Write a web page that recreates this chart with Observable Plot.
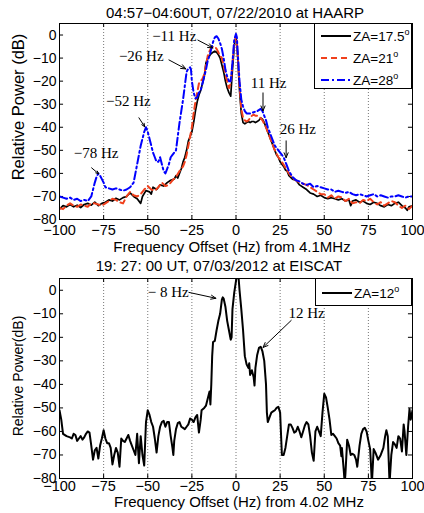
<!DOCTYPE html>
<html><head><meta charset="utf-8">
<script src="https://cdn.jsdelivr.net/npm/d3@7"></script>
<script src="https://cdn.jsdelivr.net/npm/@observablehq/plot@0.6"></script>
<style>
body{margin:0;background:#fff;font-family:"Liberation Sans",Arial,Helvetica,sans-serif;color:#000;}
#wrap{position:relative;width:424px;height:513px;overflow:hidden;}
.abs{position:absolute;white-space:nowrap;line-height:1;}
.ctr{transform:translate(-50%,-50%);}
.ylab{transform:translate(-50%,-50%) rotate(-90deg);}
.leg{position:absolute;background:#fff;border:1px solid #000;box-sizing:border-box;}
.row{position:absolute;left:0;height:20px;}
.row svg{position:absolute;left:6px;top:0;}
.row span{position:absolute;left:38px;top:3px;font-size:13.5px;white-space:nowrap;}
sup{font-size:9px;vertical-align:6px;line-height:0;}
</style></head>
<body><div id="wrap"></div>
<script>
// ---------- data ----------
const xTicks = [-100,-75,-50,-25,0,25,50,75,100];
const yTicks = [-80,-70,-60,-50,-40,-30,-20,-10,0];
const gridTicks = [-75,-50,-25,0,25,50,75];

const titleTop = "04:57\u221204:60UT, 07/22/2010 at HAARP";
const titleBottom = "19: 27: 00 UT, 07/03/2012 at EISCAT";
const xLabelTop = "Frequency Offset (Hz) from 4.1MHz";
const xLabelBottom = "Frequency Offset (Hz) from 4.02 MHz";
const yLabelTop = "Relative Power (dB)";
const yLabelBottom = "Relative Power(dB)";

// HAARP, ZA=17.5 deg  [freq Hz, dB]
const za175 = [[-100,-75.5],[-98,-74],[-96,-74.5],[-94,-73.5],[-92,-74.5],[-90,-73.8],[-88,-74.8],[-86,-73.5],[-84,-73],[-82,-73.8],[-80,-72.5],[-78,-74],[-76,-73],[-74,-72.5],[-72,-71.5],[-70,-72],[-68,-70.8],[-66,-71.5],[-64,-70.5],[-62,-70],[-60,-68.5],[-58,-70],[-56,-71],[-54,-73],[-53,-70],[-51,-67.5],[-49,-68],[-48,-69],[-47,-66],[-45,-67],[-43,-65],[-41,-65.5],[-39,-64],[-37,-63],[-35,-62.5],[-34,-61],[-33,-62],[-31,-58],[-30,-55],[-29,-53],[-28,-50],[-27,-46],[-26,-44],[-25,-42],[-24,-38],[-23,-33],[-22,-29],[-21,-26],[-20,-24],[-19,-21],[-18,-18],[-17,-12],[-16,-10],[-15,-9],[-14,-8],[-13,-7.5],[-12,-7],[-11,-7.5],[-10,-8.5],[-9,-10],[-8,-13],[-7,-16],[-6,-20],[-5,-23],[-4,-25],[-3,-26.5],[-2,-15],[-1,-5],[-0.5,-2],[0,-1.5],[0.5,-3],[1,-10],[2,-24],[3,-34],[4,-38],[5,-38.5],[6,-38],[7,-37.5],[8,-38],[9,-37.5],[10,-37.5],[11,-38],[12,-37.5],[13,-37],[14,-36],[15,-36.5],[16,-38],[17,-40],[18,-42],[19,-44],[20,-46],[21,-48],[22,-50],[23,-52],[24,-53],[25,-55],[26,-56],[27,-57],[28,-58.5],[29,-59],[30,-61],[32,-62.5],[34,-63],[36,-65],[38,-66],[40,-67],[42,-68.5],[44,-69],[46,-70],[48,-69.5],[50,-70.5],[52,-71],[54,-70.5],[56,-71],[58,-71.5],[60,-71],[62,-72],[64,-71.5],[65,-74],[66,-72],[68,-71.5],[70,-72.5],[72,-72],[74,-73],[76,-73.5],[78,-72.5],[80,-73],[82,-74],[84,-74.5],[86,-73.5],[88,-74],[90,-73],[92,-72.5],[94,-74],[96,-75],[97,-76],[98,-74.5],[100,-74]];

// HAARP, ZA=21 deg
const za21 = [[-100,-75],[-98,-75.5],[-96,-74],[-94,-73],[-92,-74],[-90,-74.5],[-88,-73.5],[-86,-74],[-84,-74.5],[-82,-73],[-80,-73],[-78,-73.5],[-76,-74],[-74,-73],[-72,-72],[-70,-71],[-68,-71.5],[-66,-72.5],[-64,-73],[-62,-70],[-60,-68],[-58,-69.5],[-56,-70],[-54,-69],[-52,-67],[-50,-65.5],[-48,-67],[-46,-67.5],[-44,-66],[-42,-64],[-40,-65.5],[-38,-65],[-36,-63],[-34,-61.5],[-32,-59],[-30,-57],[-29,-55],[-28,-52],[-27,-48],[-26,-44],[-25,-40],[-24,-34],[-23,-29],[-22,-25],[-21,-21],[-20,-20],[-19,-19],[-18,-17],[-17,-13],[-16,-9],[-15,-7],[-14,-5.5],[-13,-5],[-12,-5],[-11,-6],[-10,-7.5],[-9,-9],[-8,-10],[-7,-13],[-6,-17],[-5,-20],[-4,-23],[-3,-21],[-2,-12],[-1,-4],[0,-0.5],[0.5,-3],[1,-9],[2,-22],[3,-32],[4,-36],[5,-37],[6,-37.5],[7,-37],[8,-36],[9,-35],[10,-34.5],[11,-35],[12,-35],[13,-35.5],[14,-36],[15,-37],[16,-38.5],[17,-40],[18,-42],[19,-44],[20,-46],[22,-50],[24,-53],[26,-55],[28,-57.5],[30,-60],[32,-62],[34,-63],[36,-64],[38,-64.5],[40,-65],[42,-66],[44,-67],[46,-68],[48,-69],[50,-69],[52,-70.5],[54,-69.5],[56,-71],[58,-70],[60,-70.5],[62,-72],[64,-71],[66,-73],[68,-72.5],[70,-73],[72,-71.5],[74,-72],[76,-71],[78,-72.5],[80,-73.5],[82,-72.5],[84,-74],[86,-73],[88,-72],[90,-72.5],[92,-74],[94,-75],[96,-74],[98,-75.5],[100,-74]];

// HAARP, ZA=28 deg
const za28 = [[-100,-70],[-98,-70.5],[-96,-71],[-94,-70.5],[-92,-71.5],[-90,-71],[-88,-72],[-86,-71.5],[-84,-72],[-82,-70],[-81,-67],[-80,-64],[-79,-61.5],[-78,-60],[-77,-61],[-76,-62.5],[-75,-64],[-74,-66],[-72,-66.5],[-70,-67],[-68,-66.5],[-66,-67],[-64,-67.5],[-62,-67],[-60,-66],[-58,-64],[-57,-60],[-56,-56],[-55,-52],[-54,-48],[-53,-45],[-52,-42],[-51,-40],[-50,-42],[-49,-45],[-48,-48],[-47,-51],[-46,-53],[-45,-55],[-44,-55],[-43,-53],[-42,-56],[-41,-59],[-40,-60],[-39,-58],[-38,-56],[-37,-53],[-36,-52],[-35,-51],[-34,-50],[-33,-44],[-32,-38],[-31,-33],[-30,-28],[-29,-22],[-28,-16],[-27,-14.5],[-26,-14],[-25.5,-15],[-25,-20],[-24,-25],[-23,-27.5],[-22,-27],[-21,-25],[-20,-24],[-19,-21],[-18,-18],[-17,-15],[-16,-11],[-15,-9],[-14,-6],[-13,-3],[-12,-1],[-11,-0.5],[-10,-1.5],[-9,-3.5],[-8,-6],[-7,-10],[-6,-15],[-5,-18],[-4,-20],[-3,-20],[-2,-12],[-1,-2],[0,0.5],[0.5,-1],[1,-8],[2,-20],[3,-28],[4,-31],[5,-33],[6,-34],[8,-34],[10,-33.5],[12,-33],[14,-32],[15,-33],[16,-35],[17,-37],[18,-40],[20,-44],[22,-48],[24,-50],[26,-52],[27,-53],[28,-55],[29,-57],[30,-59],[32,-61.5],[34,-63],[36,-63.5],[38,-64.5],[40,-65],[42,-64.5],[44,-66],[46,-65.5],[48,-66],[50,-66.5],[52,-67],[54,-67],[56,-68],[58,-67.5],[60,-68],[62,-68.5],[64,-68],[66,-69],[68,-69.5],[70,-69],[72,-69.5],[74,-70],[76,-69.5],[78,-69],[80,-70],[82,-69.5],[84,-70],[86,-70.5],[88,-70],[90,-70],[92,-69.5],[94,-70],[96,-70.5],[98,-70],[100,-70]];

// EISCAT, ZA=12 deg
const za12 = [[-100,-51],[-99,-55],[-98,-61],[-96,-62],[-94,-62.5],[-93,-63],[-92,-61],[-91,-61.5],[-90,-64],[-89,-63],[-88,-62],[-87,-63.5],[-86,-62.5],[-85,-61],[-84,-60],[-83,-60.5],[-82,-66],[-81,-72],[-80,-68],[-79,-67],[-78,-71.5],[-77,-66],[-76,-63],[-75,-59.5],[-74,-63],[-73,-65],[-72,-65],[-71,-67],[-70,-74],[-69,-70],[-68,-67],[-67,-69],[-66,-75],[-65,-63],[-64,-64],[-63,-64.5],[-62,-63],[-61,-61.5],[-60,-64],[-59,-66],[-58,-68],[-57,-70],[-56,-61],[-55,-73.5],[-54,-62],[-53,-70],[-52,-74.5],[-51,-56],[-50,-51],[-49,-53],[-48,-56],[-47,-58],[-46,-63],[-45,-69],[-44,-62],[-43,-58],[-42,-56],[-41,-55.5],[-40,-58],[-39,-56],[-38,-56],[-37,-62],[-36,-67],[-35.5,-70],[-35,-64],[-34,-59],[-33,-56.5],[-32,-56],[-31,-58],[-30,-58.5],[-29,-59],[-28,-58],[-27,-57],[-26,-54.5],[-25,-55],[-24,-56],[-23,-54],[-22,-53],[-21,-60.5],[-20,-55],[-19.5,-51],[-18,-50],[-17,-49],[-16,-46],[-15,-43],[-14.5,-48.5],[-14,-40],[-13.5,-28],[-13,-22],[-12,-21.5],[-11,-17],[-10,-13],[-9,-10],[-8,-4],[-7.5,-3],[-7,-3.5],[-6,-7],[-5,-13],[-4,-17],[-3,-21],[-2.5,-20],[-2,-8],[-1,-1],[0,4],[0.5,6],[1,7],[1.5,5],[2,0],[3,-8],[4,-17],[5,-28],[6,-31.5],[7,-33],[7.5,-31],[8,-36],[9,-34],[10,-37],[10.5,-40.5],[11,-33],[12,-27.5],[13,-24.5],[14,-24],[15,-26],[16,-30],[17,-40],[17.5,-52],[18,-56],[19,-54],[20,-52],[21,-51.5],[22,-51],[23,-50],[24,-49.5],[25,-52],[26,-70],[27,-70],[28,-67],[29,-62],[30,-57],[31,-57],[32,-58.5],[33,-60.5],[34,-60],[35,-58],[36,-60],[37,-62.5],[38,-60],[39,-57.5],[40,-56],[41,-57],[42,-62],[43,-69],[44,-72.5],[45,-60],[46,-58],[47,-60],[48,-62],[49,-52],[50,-44],[51,-45.5],[52,-50],[53,-55],[54,-61.5],[55,-61],[56,-62],[57,-63],[58,-65],[59,-66],[59.7,-70.5],[60,-67],[61,-76],[61.6,-82],[62,-78],[63,-63.5],[64,-66],[65,-70],[66,-69.5],[67,-70],[68,-72],[68.7,-75],[70,-66],[71,-61],[72,-59],[73,-58.5],[74,-60],[75,-64],[76,-67.5],[77,-82],[78,-67.5],[79,-69],[80.5,-72],[82,-70],[83.5,-67],[84.5,-62],[85.2,-59.5],[86,-62],[87,-82],[88,-70],[89,-64.5],[90,-65.5],[91,-67],[92,-62],[93,-63],[94,-68.5],[95,-57],[95.5,-60],[96.5,-70],[97.5,-58],[98.3,-50.5],[99,-55],[100,-51]];

// annotations: label position (f, dB) and arrow from (f1,d1) to (f2,d2)
const annTop = [
  {label:"\u221211 Hz", f:-35, d:-0.4, f1:-21.6, d1:-2.2, f2:-13.1, d2:-5.6},
  {label:"\u221226 Hz", f:-53.7, d:-9.1, f1:-38, d1:-10.8, f2:-28.4, d2:-14.7},
  {label:"11 Hz", f:18.5, d:-20.8, f1:15.3, d1:-25.1, f2:15.3, d2:-32.9},
  {label:"26 Hz", f:35, d:-40.7, f1:28.4, d1:-45.9, f2:28.4, d2:-53.2},
  {label:"\u221252 Hz", f:-61, d:-28.6, f1:-55, d1:-35.9, f2:-51.7, d2:-39.8},
  {label:"\u221278 Hz", f:-79.3, d:-51.1, f1:-81.8, d1:-57.6, f2:-77.8, d2:-60.2}
];
const annBottom = [
  {label:"\u2212 8 Hz", f:-38.4, d:-0.9, f1:-26.7, d1:-0.9, f2:-11.4, d2:-3.4},
  {label:"12 Hz", f:40, d:-9.8, f1:31.3, d1:-12.8, f2:15.3, d2:-24.3}
];

const seriesTop = [
  {name:"ZA=17.5", data:za175, color:"#000000", dash:null, w:1.7},
  {name:"ZA=21", data:za21, color:"#f0401c", dash:"6,4", w:2},
  {name:"ZA=28", data:za28, color:"#0000ff", dash:"8,3,2,3", w:2}
];
const seriesBottom = [
  {name:"ZA=12", data:za12, color:"#000000", dash:null, w:2}
];

// ---------- drawing ----------
const wrap = document.getElementById("wrap");
const toRows = arr => arr.map(([f, d]) => ({f, d}));

function panel(series, ann, opts) {
  const marks = [
    Plot.gridX(gridTicks, {stroke:"#777", strokeOpacity:1, strokeDasharray:"1,2", strokeWidth:1}),
    Plot.ruleX(xTicks, {y1:-80, y2:-78.3, stroke:"black"}),
    Plot.ruleX(xTicks, {y1:5, y2:3.3, stroke:"black"}),
    Plot.ruleY(yTicks, {x1:-100, x2:-97.7, stroke:"black"}),
    Plot.ruleY(yTicks, {x1:100, x2:97.7, stroke:"black"}),
    ...series.map(s => Plot.line(toRows(s.data), {x:"f", y:"d", stroke:s.color, strokeWidth:s.w,
        strokeDasharray:s.dash || undefined, clip:true})),
    Plot.arrow(ann, {x1:"f1", y1:"d1", x2:"f2", y2:"d2", stroke:"black", strokeWidth:1, headLength:8, headAngle:45}),
    Plot.text(ann, {x:"f", y:"d", text:"label", fontFamily:"'Liberation Serif','Times New Roman',serif", fontSize:15, fill:"black"}),
    Plot.axisX(xTicks, {tickSize:0, tickPadding:opts.xPad, fontSize:14.5, label:null}),
    Plot.axisY(yTicks, {tickSize:0, tickPadding:3, fontSize:14, label:null}),
    Plot.frame({stroke:"black", strokeWidth:1})
  ];
  return Plot.plot({
    width:424, height:opts.height,
    marginLeft:59, marginRight:12, marginTop:opts.mt, marginBottom:opts.mb,
    x:{domain:[-100,100]}, y:{domain:[-80,5]},
    style:{background:"transparent", color:"black", fontFamily:"'Liberation Sans',Arial,sans-serif"},
    marks
  });
}

function place(el, top) {
  el.style.position = "absolute"; el.style.left = "0px"; el.style.top = top + "px";
  wrap.appendChild(el);
}
function label(text, x, y, size, cls) {
  const d = document.createElement("div");
  d.className = "abs " + cls;
  d.style.left = x + "px"; d.style.top = y + "px"; d.style.fontSize = size + "px";
  d.textContent = text;
  wrap.appendChild(d);
}
function legend(series, left, top, w, h, rowYs) {
  const box = document.createElement("div");
  box.className = "leg";
  Object.assign(box.style, {left:left+"px", top:top+"px", width:w+"px", height:h+"px"});
  series.forEach((s, i) => {
    const r = document.createElement("div");
    r.className = "row";
    r.style.top = (rowYs[i] - top - 10) + "px";
    r.style.width = w + "px";
    r.innerHTML = `<svg width="32" height="20"><line x1="0" x2="30" y1="10" y2="10" stroke="${s.color}" stroke-width="2" ${s.dash ? `stroke-dasharray="${s.dash}"` : ""}/></svg><span>${s.name}<sup>o</sup></span>`;
    box.appendChild(r);
  });
  wrap.appendChild(box);
}

place(panel(seriesTop, annTop, {height:250, mt:23, mb:31, xPad:5}), 0);
place(panel(seriesBottom, annBottom, {height:263, mt:28, mb:35, xPad:2}), 250);

label(titleTop, 235, 12, 15, "ctr");
label(xLabelTop, 232, 246, 15, "ctr");
label(yLabelTop, 18, 107, 16.5, "ylab");
label(titleBottom, 219, 265, 15, "ctr");
label(xLabelBottom, 239, 501, 15, "ctr");
label(yLabelBottom, 18, 376, 14, "ylab");

legend(seriesTop, 314, 23, 98, 66, [35, 57, 79]);
legend(seriesBottom, 315, 278, 97, 28, [292]);
</script>
</body></html>
